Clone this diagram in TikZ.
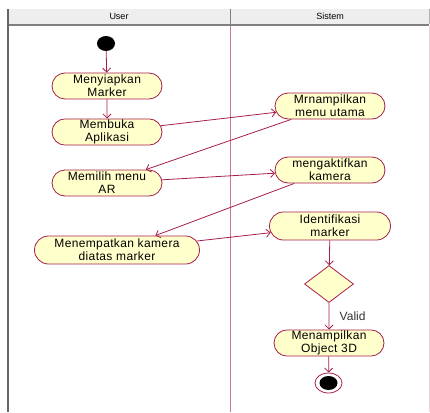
\documentclass[tikz,border=0pt]{standalone}
\usepackage{fontspec}
\setmainfont{Liberation Sans}
\usetikzlibrary{arrows.meta}
\usetikzlibrary{shapes.misc}
\usetikzlibrary{shapes.geometric}
\definecolor{umlred}{RGB}{165,30,75}
\definecolor{umlfill}{RGB}{255,255,204}
\definecolor{lanepink}{RGB}{205,115,155}
\definecolor{headgray}{RGB}{238,238,238}

\tikzset{
  act/.style={rounded rectangle, draw=umlred, fill=umlfill, line width=0.8pt,
    minimum width=112pt, minimum height=26pt, inner sep=1pt, align=center,
    font=\fontsize{12}{13}\selectfont\addfontfeature{LetterSpace=3}},
  flow/.style={umlred, line width=0.8pt, -{Straight Barb[length=4pt,width=8pt]}},
}

\begin{document}
\begin{tikzpicture}[x=1pt,y=-1pt]
\useasboundingbox (0,0) rectangle (430,412);

% swimlanes
\fill[headgray] (8,9) rectangle (429,24);
\draw[gray, line width=2pt] (8,25) -- (429,25);
\draw[gray!80!black, line width=1.2pt] (8,9) -- (8,412);
\draw[gray, line width=1.5pt] (230.5,9) -- (230.5,24);
\draw[lanepink, line width=1.5pt] (230.5,26) -- (230.5,412);
\draw[gray!60, line width=1pt] (429,9) -- (429,24);
\draw[lanepink!30, line width=0.6pt] (429,26) -- (429,412);
\node[font=\fontsize{9}{10}\selectfont] (user) at (119,16.5) {User};
\node[font=\fontsize{9}{10}\selectfont] (sistem) at (330,16.5) {Sistem};

% activities
\node[ellipse, fill=black, minimum width=18pt, minimum height=15pt, inner sep=0] (start) at (106,43.5) {};
\node[act] (siap) at (107,86) {Menyiapkan\\Marker};
\node[act] (buka) at (107,132) {Membuka\\Aplikasi};
\node[act] (menu) at (330,106) {Mrnampilkan\\menu utama};
\node[act] (pilih) at (107,183) {Memilih menu\\AR};
\node[act] (aktif) at (330,170) {mengaktifkan\\kamera};
\node[act, minimum width=123pt, minimum height=28pt] (ident) at (330,226) {Identifikasi\\marker};
\node[act, minimum width=167pt, minimum height=28pt] (tempat) at (117,250) {Menempatkan kamera\\diatas marker};
\node[diamond, draw=umlred, fill=umlfill, line width=0.8pt, aspect=1.32,
  minimum width=49pt, minimum height=37pt, inner sep=0] (cek) at (329,284) {};
\node[act] (objek) at (329,343) {Menampilkan\\Object 3D};
\node[ellipse, draw=umlred, fill=white, line width=0.8pt, minimum width=27pt,
  minimum height=20pt, inner sep=0] (final) at (328.5,383) {};
\fill[black] (final.center) ellipse (9pt and 7pt);

% flows
\draw[flow] (start) -- (siap);
\draw[flow] (siap) -- (buka);
\draw[flow] (buka) -- (menu);
\draw[flow] (menu) -- (pilih);
\draw[flow] (pilih) -- (aktif);
\draw[flow] (aktif) -- (tempat);
\draw[flow] (tempat) -- (ident);
\draw[flow] (ident) -- (cek);
\draw[flow] (cek) -- node[right=7pt, text=black!80, font=\fontsize{12}{13}\selectfont] {Valid} (objek);
\draw[flow] (objek) -- (final);

\end{tikzpicture}
\end{document}
